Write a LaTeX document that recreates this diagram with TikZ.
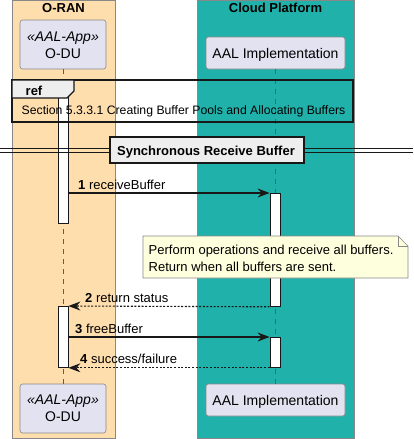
\documentclass[tikz,border=0pt]{standalone}
\usepackage{fontspec}
\setmainfont{Liberation Sans}
\usetikzlibrary{arrows.meta}
\definecolor{oran}{HTML}{FFDEAD}
\definecolor{cloud}{HTML}{20B2AA}
\definecolor{partbg}{HTML}{E2E2F0}
\definecolor{ink}{HTML}{181818}
\definecolor{notebg}{HTML}{FEFFDD}
\definecolor{framegray}{HTML}{EEEEEE}
\definecolor{boxline}{HTML}{888888}
\begin{document}
\begin{tikzpicture}[x=1pt,y=-1pt,
  partbox/.style={draw=boxline, fill=partbg, rounded corners=2.5pt, line width=0.6pt, inner sep=0pt},
  lifeline/.style={draw=ink!70, line width=0.5pt, dash pattern=on 5pt off 5pt},
  actbar/.style={draw=ink, fill=white, line width=0.8pt, minimum width=10pt, inner sep=0pt, anchor=north},
  msg/.style={draw=ink, line width=1.1pt, -{Stealth[length=12pt,width=9pt,inset=4pt]}},
  retmsg/.style={msg, dash pattern=on 2pt off 1.6pt},
  lbl/.style={anchor=base west, inner sep=0pt, font=\fontsize{13}{15}\selectfont},
  ptxt/.style={anchor=base, inner sep=0pt, font=\fontsize{14}{17}\selectfont},
  ttl/.style={anchor=base, inner sep=0pt, font=\fontsize{13}{15}\selectfont\bfseries}]
\useasboundingbox (0,0) rectangle (413,439);
% group boxes
\path[fill=oran, draw=boxline, line width=0.6pt] (12,0.3) rectangle (115,438);
\path[fill=cloud, draw=boxline, line width=0.6pt] (197,0.3) rectangle (354,438);
\node[ttl] (tor) at (63.5,12.5) {O-RAN};
\node[ttl] (tcp) at (275.5,12.5) {Cloud Platform};
% participants
\node[partbox, minimum width=86pt, minimum height=49pt] (oduT) at (63,44.5) {};
\node[ptxt] (oduTs) at (63,41.7) {\itshape «AAL-App»};
\node[ptxt] (oduTn) at (63,58.7) {O-DU};
\node[partbox, minimum width=139pt, minimum height=32pt] (aalT) at (275.5,53) {};
\node[ptxt] (aalTn) at (275.5,58.7) {AAL Implementation};
\node[partbox, minimum width=86pt, minimum height=49pt] (oduB) at (63,408.5) {};
\node[ptxt] (oduBs) at (63,404.5) {\itshape «AAL-App»};
\node[ptxt] (oduBn) at (63,421.5) {O-DU};
\node[partbox, minimum width=139pt, minimum height=32pt] (aalB) at (275.5,400) {};
\node[ptxt] (aalBn) at (275.5,405.5) {AAL Implementation};
% lifelines
\draw[lifeline] (oduT.south) -- (oduB.north);
\draw[lifeline] (aalT.south) -- (aalB.north);
% activation bars
\node[actbar, minimum height=141pt] (b1) at (63,82) {};
\node[actbar, minimum height=113pt] (b2) at (275,193) {};
\node[actbar, minimum height=61pt] (b1b) at (63,306) {};
\node[actbar, minimum height=30pt] (b3) at (275,337) {};
% ref frame
\draw[ink, line width=1.4pt] (12,80) rectangle (353,122);
\draw[ink, fill=framegray, line width=1.4pt] (12,80) -- (74,80) -- (74,91) -- (67,98) -- (12,98) -- cycle;
\node[anchor=base west, inner sep=0pt, font=\fontsize{13}{15}\selectfont\bfseries] (reft) at (25.5,95) {ref};
\node[anchor=base west, inner sep=0pt, font=\fontsize{12.25}{15}\selectfont] (refx) at (21.5,114.5) {Section 5.3.3.1 Creating Buffer Pools and Allocating Buffers};
% divider
\draw[ink, line width=0.9pt] (0,148) -- (413,148);
\draw[ink, line width=0.9pt] (0,152) -- (413,152);
\node[draw=ink, fill=framegray, line width=1.4pt, minimum width=194pt, minimum height=26pt, inner sep=0pt] (div) at (207,150) {};
\node[ttl] (divt) at (206,155) {Synchronous Receive Buffer};
% messages
\draw[msg] (b1.east |- b2.north) -- (b2.north west);
\node[lbl] (l1) at (78,189) {\textbf{1} receiveBuffer};
\draw[retmsg] (b2.south west) -- (b1b.north east);
\node[lbl] (l2) at (85,302) {\textbf{2} return status};
\draw[msg] (b1b.east |- b3.north) -- (b3.north west);
\node[lbl] (l3) at (75,333) {\textbf{3} freeBuffer};
\draw[retmsg] (b3.south west) -- (b1b.south east);
\node[lbl] (l4) at (80,363) {\textbf{4} success/failure};
% note
\draw[draw=boxline, fill=notebg, line width=0.6pt] (143,236) -- (398,236) -- (408,246) -- (408,278) -- (143,278) -- cycle;
\draw[draw=boxline, line width=0.6pt] (398,236) -- (398,246) -- (408,246);
\node[lbl] (n1) at (148.5,254.5) {Perform operations and receive all buffers.};
\node[lbl] (n2) at (148.5,271.5) {Return when all buffers are sent.};
\end{tikzpicture}
\end{document}
